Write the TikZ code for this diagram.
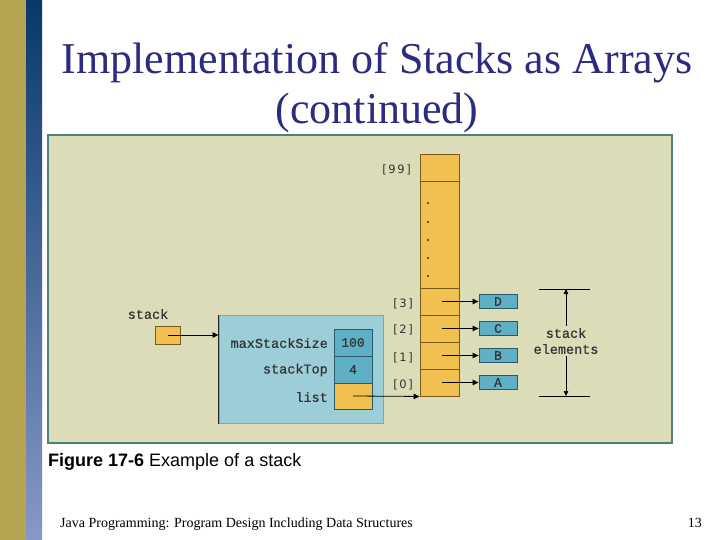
\documentclass[tikz,border=0pt]{standalone}
\usepackage{fontspec}
\setmainfont{Liberation Serif}
\newfontfamily\monofont[FakeBold=0.6]{Liberation Mono}
\newfontfamily\arialfont{Liberation Sans}
\newfontfamily\idxfont[LetterSpace=14]{DejaVu Sans}
\usetikzlibrary{arrows.meta}
\definecolor{panelfill}{HTML}{DCDCB8}
\definecolor{panelline}{HTML}{4E8080}
\definecolor{orangefill}{HTML}{F0C050}
\definecolor{orangeline}{HTML}{7A5A1A}
\definecolor{boxfill}{HTML}{9DCED8}
\definecolor{boxline}{HTML}{78A8B4}
\definecolor{tealfill}{HTML}{5FB0C4}
\definecolor{tealline}{HTML}{2A5A6A}
\definecolor{titleblue}{HTML}{2B2B80}
\definecolor{goldbar}{HTML}{B5A552}
\definecolor{txtgray}{HTML}{333333}
\tikzset{
  orangecell/.style={draw=orangeline, fill=orangefill, line width=0.9pt, inner sep=0pt},
  tealcell/.style={draw=tealline, fill=tealfill, line width=0.8pt, inner sep=0pt, font=\monofont\fontsize{13}{13}\selectfont, text=txtgray},
  monolabel/.style={font=\monofont\fontsize{13.5}{14}\selectfont, text=txtgray, inner sep=0pt},
  idxlabel/.style={font=\idxfont\fontsize{11.5}{12}\selectfont, text=txtgray, inner sep=0pt, anchor=east},
  ptr/.style={line width=0.8pt, -{Triangle[length=6pt,width=5.5pt]}},
  dimarrow/.style={line width=0.6pt, -{Triangle[length=5pt,width=4.5pt]}},
}
\begin{document}
\begin{tikzpicture}[x=1pt,y=-1pt]
\path[use as bounding box, fill=white] (0,0) rectangle (720,540);
% left decorative strips
\fill[goldbar] (0,0) rectangle (26,540);
\shade[top color={rgb,255:red,8;green,56;blue,108}, bottom color={rgb,255:red,136;green,152;blue,200}] (26,0) rectangle (42,540);
% title
\node[anchor=base, font=\fontsize{44}{48}\selectfont, text=titleblue, inner sep=0pt] (title1) at (377,74) {Implementation of Stacks as Arrays};
\node[anchor=base, font=\fontsize{44}{48}\selectfont, text=titleblue, inner sep=0pt] (title2) at (377,124) {(continued)};
% panel
\node[draw=panelline, fill=panelfill, line width=1.6pt, minimum width=624pt, minimum height=308pt, inner sep=0pt] (panel) at (360,289) {};
% array column
\node[orangecell, minimum width=39pt, minimum height=27pt] (c99) at (439.5,167.5) {};
\node[orangecell, minimum width=39pt, minimum height=107pt] (cdots) at (439.5,234.5) {};
\node[orangecell, minimum width=39pt, minimum height=27pt] (c3) at (439.5,301.5) {};
\node[orangecell, minimum width=39pt, minimum height=27pt] (c2) at (439.5,328.5) {};
\node[orangecell, minimum width=39pt, minimum height=27pt] (c1) at (439.5,355.5) {};
\node[orangecell, minimum width=39pt, minimum height=27pt] (c0) at (439.5,382.5) {};
\foreach \yy in {203,222,240,258,276} \fill[black!80] (428,\yy) circle (1.2pt);
% index labels
\node[idxlabel] (i99) at (411,170) {[99]};
\node[idxlabel] (i3) at (413,304) {[3]};
\node[idxlabel] (i2) at (413,330) {[2]};
\node[idxlabel] (i1) at (413,358) {[1]};
\node[idxlabel] (i0) at (413,385) {[0]};
% element boxes
\node[tealcell, minimum width=38pt, minimum height=14pt] (eD) at (498,301.5) {D};
\node[tealcell, minimum width=38pt, minimum height=14pt] (eC) at (498,328.5) {C};
\node[tealcell, minimum width=38pt, minimum height=14pt] (eB) at (498,355.5) {B};
\node[tealcell, minimum width=38pt, minimum height=14pt] (eA) at (498,382.5) {A};
\draw[ptr] ([xshift=2.5pt]c3.center) -- (eD.west);
\draw[ptr] ([xshift=2.5pt]c2.center) -- (eC.west);
\draw[ptr] ([xshift=2.5pt]c1.center) -- (eB.west);
\draw[ptr] ([xshift=2.5pt]c0.center) -- (eA.west);
% stack elements dimension
\coordinate (setop) at (566,289);
\coordinate (sebot) at (566,396);
\draw[line width=0.8pt] (539,289) -- (590,289);
\draw[line width=0.8pt] (539,396) -- (590,396);
\node[monolabel, align=center, fill=panelfill, inner sep=2pt, font=\monofont\fontsize{13.5}{16}\selectfont] (se) at (566,341) {stack\\elements};
\draw[dimarrow] (se.north) -- (setop);
\draw[dimarrow] (se.south) -- (sebot);
% stack variable
\node[monolabel] (stacklbl) at (148,314) {stack};
\node[orangecell, minimum width=25pt, minimum height=18pt] (stackvar) at (167.5,335) {};
% big object box
\node[draw=boxline, fill=boxfill, line width=1pt, minimum width=164pt, minimum height=108pt, inner sep=0pt] (obj) at (301,369) {};
\draw[black!85, line width=1pt] (obj.north west) -- (obj.south west);
\draw[ptr] (stackvar.center) -- (stackvar.center -| obj.west);
\node[tealcell, minimum width=38pt, minimum height=27pt] (vmax) at (353,342.5) {100};
\node[tealcell, minimum width=38pt, minimum height=27pt] (vtop) at (353,369.5) {4};
\node[orangecell, draw=tealline, minimum width=38pt, minimum height=26pt] (vlist) at (353,396) {};
\node[monolabel, anchor=east] (lmax) at (328,343) {maxStackSize};
\node[monolabel, anchor=east] (ltop) at (328,370) {stackTop};
\node[monolabel, anchor=east] (llist) at (328,397) {list};
\draw[ptr] (vlist.center) -- (c0.south west);
% caption
\node[anchor=base west, inner sep=0pt, font=\arialfont\fontsize{18}{18}\selectfont] (caption) at (48,466) {\textbf{Figure 17-6} Example of a stack};
% footer
\node[anchor=base west, inner sep=0pt, font=\fontsize{14}{14}\selectfont] (footer) at (60,527) {Java Programming: Program Design Including Data Structures};
\node[anchor=base east, inner sep=0pt, font=\fontsize{14}{14}\selectfont] (pagenum) at (702,527) {13};
\end{tikzpicture}
\end{document}
